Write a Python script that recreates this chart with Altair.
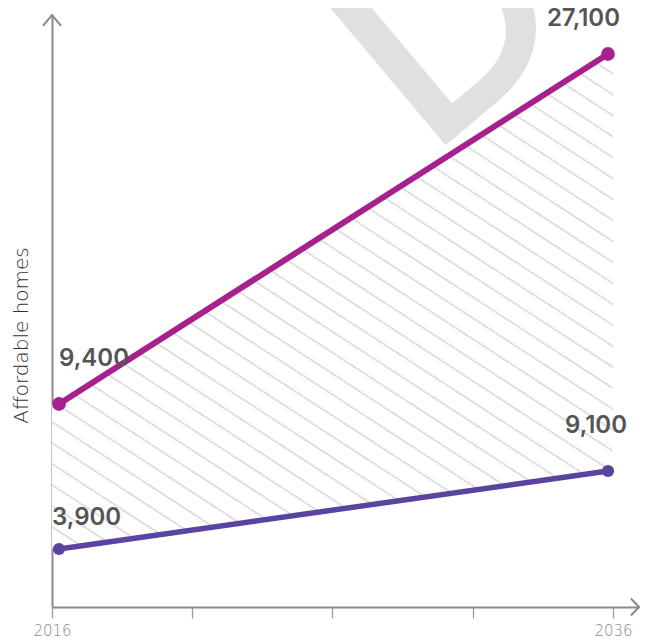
import altair as alt
import pandas as pd

# ---- data ----
years = [2016, 2036]
series_names = ["need", "supply"]
need = [9400, 27100]
supply = [3900, 9100]
tick_years = [2016, 2021, 2026, 2031, 2036]
y_title = "Affordable homes"
watermark = "D"

wide = pd.DataFrame({"year": years, "need": need, "supply": supply})
long = pd.DataFrame({
    "year": years + years,
    "series": [series_names[0]] * 2 + [series_names[1]] * 2,
    "value": need + supply,
})
dummy = pd.DataFrame({"a": [0]})

# ---- styling ----
AXIS_GREY = "#8a8a8a"
HATCH = "#e1e1e1"
COLORS = ["#a6218d", "#5a449f"]
PAD_LEFT, PAD_TOP, PAD_RIGHT = 44, 7, 1
SVG_W, SVG_H = 632, 632
W = SVG_W - PAD_LEFT - PAD_RIGHT          # 587
H = 592
PX_PER_YEAR = 561 / (years[1] - years[0])
X_MAX = years[0] + W / PX_PER_YEAR
Y_TOP = 29100

# schematic (piecewise) vertical scale, as in the reference drawing
y_domain = [0, supply[0], supply[1], need[0], need[1], Y_TOP]
y_range = [H, 534, 456, 389, 39, 0]
y_scale = alt.Scale(domain=y_domain, range=y_range, nice=False, zero=False)

y_axis = alt.Axis(
    title=y_title, ticks=False, labels=False, grid=False,
    domainColor=AXIS_GREY, domainWidth=2,
    titleFont="DejaVu Sans", titleFontSize=20, titleFontWeight=200, titleColor="#333333",
    titleX=-25, titleY=320, titleBaseline="alphabetic", titleAngle=270,
)

label_test = " || ".join(f"datum.value == {y}" for y in (tick_years[0], tick_years[-1]))
x_axis = alt.Axis(
    values=tick_years, title=None, grid=False,
    labelExpr=f"({label_test}) ? '' + datum.value : ''",
    domainColor=AXIS_GREY, domainWidth=2,
    tickColor="#9a9a9a", tickWidth=1.3, tickSize=11,
    labelColor=AXIS_GREY, labelFont="DejaVu Sans", labelFontSize=15, labelFontWeight=200,
    labelPadding=5, labelFlush=False, labelOverlap=False,
)
xA = alt.Scale(domain=[years[0], X_MAX], nice=False, zero=False)
xB = alt.Scale(domain=years, range=[7, 556], nice=False, zero=False)

# ---- hatch as a striped linear gradient ----
N = 41
f = 0.115
stops = []
for i in range(N):
    a = round(i / N, 5)
    b = round((i + f) / N, 5)
    c = min(1.0, round((i + 1) / N, 5))
    stops += [
        alt.GradientStop(offset=a, color=HATCH),
        alt.GradientStop(offset=b, color=HATCH),
        alt.GradientStop(offset=b, color="white"),
        alt.GradientStop(offset=c, color="white"),
    ]
hatch = alt.LinearGradient(gradient="linear", stops=stops, x1=0, y1=1, x2=0.8294, y2=-0.1258)

# ---- layer A: axis scale ----
mark_wm = alt.Chart(dummy).mark_text(
    text=watermark, angle=320, font="Inter", fontSize=285, fontWeight=500,
    color="#e0e0e0", align="left", baseline="alphabetic",
).encode(x=alt.value(376), y=alt.value(145))

area = alt.Chart(wide).mark_area(color=hatch, opacity=1).encode(
    x=alt.X("year:Q", scale=xA, axis=x_axis),
    y=alt.Y("need:Q", scale=y_scale, axis=y_axis),
    y2="supply:Q",
)

x_arrow = alt.Chart(dummy).mark_point(
    shape="M-0.95,-1L0,0L-0.95,1", size=289, filled=False, color=AXIS_GREY,
    strokeWidth=2, opacity=1,
).encode(
    x=alt.X(datum=X_MAX, type="quantitative", scale=xA, axis=x_axis),
    y=alt.Y(datum=0, type="quantitative", scale=y_scale, axis=y_axis),
)
y_arrow = alt.Chart(dummy).mark_point(
    shape="M-1,1.22L0,0L1,1.22", size=324, filled=False, color=AXIS_GREY,
    strokeWidth=2, opacity=1,
).encode(
    x=alt.X(datum=years[0], type="quantitative", scale=xA, axis=x_axis),
    y=alt.Y(datum=Y_TOP, type="quantitative", scale=y_scale, axis=y_axis),
)
layer_a = alt.layer(mark_wm, area, x_arrow, y_arrow)

# ---- layer B: data lines ----
color_scale = alt.Scale(domain=series_names, range=COLORS)
base = alt.Chart(long).encode(
    x=alt.X("year:Q", scale=xB, axis=None),
    y=alt.Y("value:Q", scale=y_scale, axis=y_axis),
)
lines = base.mark_line(strokeCap="round").encode(
    color=alt.Color("series:N", scale=color_scale, legend=None),
    strokeWidth=alt.StrokeWidth("series:N", scale=alt.Scale(domain=series_names, range=[6, 5.5]), legend=None),
)
points = base.mark_circle(opacity=1).encode(
    color=alt.Color("series:N", scale=color_scale, legend=None),
    size=alt.Size("series:N", scale=alt.Scale(domain=series_names, range=[190, 150]), legend=None),
)
label_specs = [
    (series_names[0], years[0], "left", 0, -45),
    (series_names[0], years[1], "right", 12, -35),
    (series_names[1], years[0], "left", -7, -31),
    (series_names[1], years[1], "right", 19, -45),
]
labels = []
for s, yr, al, dx, dy in label_specs:
    labels.append(
        base.mark_text(align=al, baseline="middle", dx=dx, dy=dy, font="Inter",
                       fontSize=24, fontWeight=600, color="#555555")
        .encode(text=alt.Text("value:Q", format=","))
        .transform_filter((alt.datum.series == s) & (alt.datum.year == yr))
    )
layer_b = alt.layer(lines, points, *labels)

chart = (
    alt.layer(layer_a, layer_b)
    .resolve_scale(x="independent")
    .properties(
        width=W, height=H,
        autosize=alt.AutoSizeParams(type="none"),
        padding={"left": PAD_LEFT, "top": PAD_TOP, "right": PAD_RIGHT,
                 "bottom": SVG_H - PAD_TOP - H},
        background="white",
    )
    .configure_view(stroke="transparent")
)

chart.save("out.html", embed_options={"renderer": "svg", "actions": False})
